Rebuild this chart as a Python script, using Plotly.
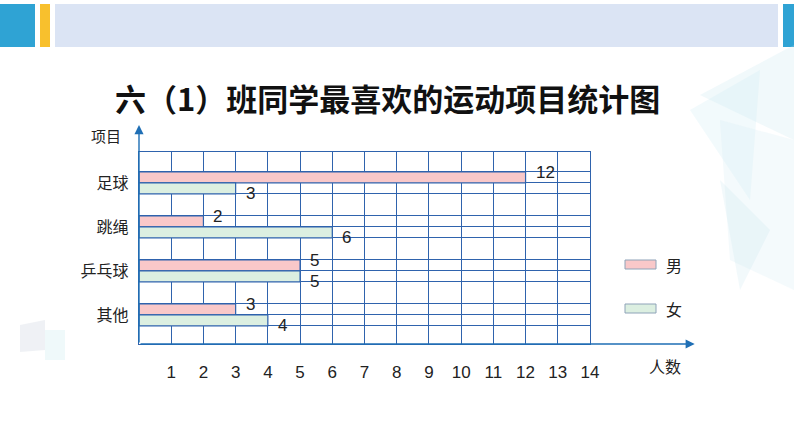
import plotly.graph_objects as go

# ---- data ----
categories = ["足球", "跳绳", "乒乓球", "其他"]
boys = [12, 2, 5, 3]
girls = [3, 6, 5, 4]
x_ticks = list(range(1, 15))
series_names = ["男", "女"]
title_text = "六（1）班同学最喜欢的运动项目统计图"
y_title = "项目"
x_title = "人数"

# ---- styling ----
GRID = "#2f63ad"
PINK = "#f9c8c9"
GREEN = "#dcefe1"
FONT_CJK = "Noto Sans CJK SC"
FONT_NUM = "Liberation Sans"

n = len(categories)
period = 4.0
base = 2.64
centers = [base + period * (n - 1 - i) for i in range(n)]
boy_y = [c + 0.5 for c in centers]
girl_y = [c - 0.5 for c in centers]
minor_lines = sorted([c + 1 for c in centers] + [c - 1 for c in centers])
y_top = centers[0] + 2.81

fig = go.Figure()
fig.add_trace(go.Bar(x=boys, y=boy_y, orientation="h", width=1.0, name=series_names[0],
                     marker=dict(color=PINK, line=dict(color=GRID, width=1.2)),
                     showlegend=False, hoverinfo="x"))
fig.add_trace(go.Bar(x=girls, y=girl_y, orientation="h", width=1.0, name=series_names[1],
                     marker=dict(color=GREEN, line=dict(color=GRID, width=1.2)),
                     showlegend=False, hoverinfo="x"))

L, R, T, B = 139, 204, 152, 103
W, H = 794, 447
PW, PH = W - L - R, H - T - B

def px(x):
    return (x - L) / PW

def py(y):
    return (H - y - B) / PH

annotations = []
# value labels
for v, y in zip(boys, boy_y):
    annotations.append(dict(x=v, y=y, xref="x", yref="y", text=str(v), showarrow=False,
                            xanchor="left", yanchor="middle", xshift=8, yshift=5,
                            font=dict(family=FONT_NUM, size=17, color="#222")))
for v, y in zip(girls, girl_y):
    annotations.append(dict(x=v, y=y, xref="x", yref="y", text=str(v), showarrow=False,
                            xanchor="left", yanchor="middle", xshift=8, yshift=-5,
                            font=dict(family=FONT_NUM, size=17, color="#222")))

# axis arrows
annotations.append(dict(x=17.25, y=0, xref="x", yref="y", ax=0, ay=0, axref="x", ayref="y",
                        text="", showarrow=True, arrowhead=2, arrowsize=1.3, arrowwidth=1.4,
                        arrowcolor="#1f6fb5"))
annotations.append(dict(x=0, y=19.9, xref="x", yref="y", ax=0, ay=0, axref="x", ayref="y",
                        text="", showarrow=True, arrowhead=2, arrowsize=1.3, arrowwidth=1.4,
                        arrowcolor="#1f6fb5"))

def txt(x, y, s, size, family, xanchor="center", color="#222"):
    return dict(x=px(x), y=py(y), xref="paper", yref="paper", text=s, showarrow=False,
                xanchor=xanchor, yanchor="middle", font=dict(family=family, size=size, color=color))

annotations += [
    txt(106, 135, y_title, 15, FONT_CJK),
    txt(665, 366, x_title, 16, FONT_CJK),
    txt(387, 97, "<b>" + title_text + "</b>", 31, FONT_CJK, color="#111"),
    txt(664, 265, series_names[0], 16, FONT_CJK, xanchor="left"),
    txt(664, 309, series_names[1], 16, FONT_CJK, xanchor="left"),
]

def px_rect(x0, y0, x1, y1, color, line=None, layer="below"):
    return dict(type="rect", xref="paper", yref="paper",
                x0=px(x0), x1=px(x1), y0=py(y1), y1=py(y0),
                fillcolor=color, line=line or dict(width=0), layer=layer)

def px_poly(points, color):
    path = "M " + " L ".join(f"{px(x):.4f},{py(y):.4f}" for x, y in points) + " Z"
    return dict(type="path", xref="paper", yref="paper", path=path, fillcolor=color,
                line=dict(width=0), layer="below")

shapes = [
    # header band
    px_rect(0, 4, 35, 47, "#2fa3d4"),
    px_rect(40, 4, 50, 47, "#f8c02d"),
    px_rect(55, 4, 778, 47, "#dbe4f4"),
    px_rect(783, 4, 794, 47, "#2fa3d4"),
    # faint watermark polygons
    px_poly([(700, 95), (794, 45), (794, 140)], "rgba(200,232,240,0.25)"),
    px_poly([(690, 110), (760, 70), (750, 200)], "rgba(205,234,242,0.25)"),
    px_poly([(720, 120), (794, 140), (794, 290), (730, 260)], "rgba(210,236,244,0.25)"),
    px_poly([(720, 180), (770, 230), (740, 290)], "rgba(195,228,238,0.22)"),
    px_poly([(20, 325), (45, 320), (45, 350), (20, 352)], "rgba(190,200,215,0.25)"),
    px_poly([(45, 330), (65, 330), (65, 360), (45, 360)], "rgba(190,230,235,0.25)"),
    # legend swatches
    px_rect(625, 260, 656, 269, PINK, dict(color="#8ea3b8", width=1), layer="above"),
    px_rect(625, 304, 656, 313, GREEN, dict(color="#8ea3b8", width=1), layer="above"),
]

fig.update_layout(
    width=W, height=H,
    margin=dict(l=L, r=R, t=T, b=B, pad=0),
    paper_bgcolor="white", plot_bgcolor="white",
    barmode="overlay",
    showlegend=False,
    annotations=annotations,
    shapes=shapes,
    xaxis=dict(range=[0, 14], tickmode="array", tickvals=x_ticks, ticktext=[str(t) for t in x_ticks],
               showgrid=True, gridcolor=GRID, gridwidth=1.2, zeroline=False,
               showline=True, linecolor=GRID, linewidth=1.4, mirror=True,
               ticks="", ticklabelstandoff=12,
               tickfont=dict(family=FONT_NUM, size=17, color="#222"), fixedrange=True),
    yaxis=dict(range=[0, y_top], tickmode="array", tickvals=centers, ticktext=categories,
               showgrid=True, gridcolor=GRID, gridwidth=1.2, zeroline=False,
               showline=True, linecolor=GRID, linewidth=1.4, mirror=True,
               minor=dict(tickmode="array", tickvals=minor_lines, showgrid=True,
                          gridcolor=GRID, gridwidth=1.2, ticks=""),
               ticks="", ticklabelstandoff=6,
               tickfont=dict(family=FONT_CJK, size=16, color="#222"), fixedrange=True),
)

fig.write_html("out.html", config={"displayModeBar": False},
               post_script="document.body.style.margin='0';")
